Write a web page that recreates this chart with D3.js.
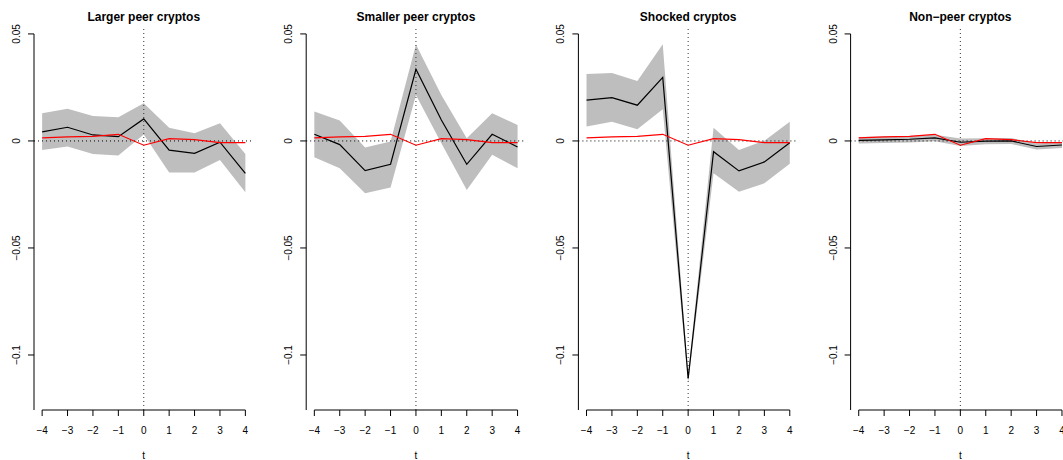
<!DOCTYPE html>
<html>
<head>
<meta charset="utf-8">
<script src="https://cdn.jsdelivr.net/npm/d3@7"></script>
<style>
body { margin: 0; background: #fff; }
text { font-family: "Liberation Sans", Arial, sans-serif; }
</style>
</head>
<body>
<script>
// event time
var t = [-4, -3, -2, -1, 0, 1, 2, 3, 4];

var titles = ["Larger peer cryptos", "Smaller peer cryptos", "Shocked cryptos", "Non\u2212peer cryptos"];

// estimates (black) and confidence band per panel
var est_larger  = [0.0042, 0.0064, 0.0028, 0.0020, 0.0103, -0.0043, -0.0058, -0.0006, -0.0151];
var up_larger   = [0.0129, 0.0151, 0.0117, 0.0111, 0.0176, 0.0062, 0.0036, 0.0083, -0.0061];
var lo_larger   = [-0.0042, -0.0026, -0.0061, -0.0068, 0.0030, -0.0148, -0.0148, -0.0089, -0.0240];

var est_smaller = [0.0031, -0.0017, -0.0139, -0.0109, 0.0335, 0.0098, -0.0109, 0.0031, -0.0028];
var up_smaller  = [0.0137, 0.0095, -0.0031, -0.0003, 0.0451, 0.0215, 0.0013, 0.0129, 0.0075];
var lo_smaller  = [-0.0076, -0.0128, -0.0244, -0.0218, 0.0215, -0.0011, -0.0229, -0.0065, -0.0128];

var est_shocked = [0.0191, 0.0202, 0.0167, 0.0297, -0.1110, -0.0050, -0.0140, -0.0098, -0.0008];
var up_shocked  = [0.0313, 0.0318, 0.0280, 0.0452, -0.1090, 0.0062, -0.0042, 0.0001, 0.0090];
var lo_shocked  = [0.0067, 0.0090, 0.0055, 0.0148, -0.1130, -0.0151, -0.0237, -0.0198, -0.0107];

var est_nonpeer = [0.0003, 0.0005, 0.0008, 0.0014, -0.0006, -0.0001, 0.0000, -0.0026, -0.0019];
var up_nonpeer  = [0.0018, 0.0021, 0.0023, 0.0029, 0.0012, 0.0013, 0.0014, -0.0012, -0.0005];
var lo_nonpeer  = [-0.0012, -0.0010, -0.0007, -0.0001, -0.0024, -0.0016, -0.0014, -0.0040, -0.0033];

// market benchmark (red), same in every panel
var market = [0.0014, 0.0019, 0.0021, 0.0031, -0.0020, 0.0011, 0.0006, -0.0008, -0.0008];

var y_ticks = [0.05, 0, -0.05, -0.1];
var y_labels = ["0.05", "0", "\u22120.05", "\u22120.1"];

var est = [est_larger, est_smaller, est_shocked, est_nonpeer];
var up = [up_larger, up_smaller, up_shocked, up_nonpeer];
var lo = [lo_larger, lo_smaller, lo_shocked, lo_nonpeer];

window.onload = function() {

var w = 1063;
var h = 460;

var svg = d3.select("body")
    .append("svg")
    .attr("width", w)
    .attr("height", h);

var step = 272.2;
var pw = 219.5;
var top = 29, bottom = 410;

var y = d3.scaleLinear().domain([-0.1257, 0.0523]).range([bottom, top]);

var draw_panel = function(i) {
    var left = 34 + i * step;
    var x = d3.scaleLinear().domain([-4.32, 4.32]).range([left, left + pw]);
    var g = svg.append("g");

    // band
    var area = d3.area()
        .x(function(d, k) { return x(t[k]); })
        .y0(function(d, k) { return y(lo[i][k]); })
        .y1(function(d) { return y(d); });
    g.append("path")
        .datum(up[i])
        .attr("d", area)
        .attr("fill", "#bebebe");

    // reference lines
    g.append("line")
        .attr("x1", left).attr("x2", left + pw)
        .attr("y1", y(0)).attr("y2", y(0))
        .attr("stroke", "#000").attr("stroke-dasharray", "1,3");
    g.append("line")
        .attr("x1", x(0)).attr("x2", x(0))
        .attr("y1", top).attr("y2", bottom)
        .attr("stroke", "#333").attr("stroke-dasharray", "1,3");

    var line = d3.line()
        .x(function(d, k) { return x(t[k]); })
        .y(function(d) { return y(d); });

    g.append("path")
        .datum(est[i])
        .attr("d", line)
        .attr("fill", "none")
        .attr("stroke", "#000")
        .attr("stroke-width", 1.2);

    g.append("path")
        .datum(market)
        .attr("d", line)
        .attr("fill", "none")
        .attr("stroke", "#ff0000")
        .attr("stroke-width", 1.2);

    // x axis
    g.append("line")
        .attr("x1", x(-4)).attr("x2", x(4))
        .attr("y1", bottom).attr("y2", bottom)
        .attr("stroke", "#000");
    t.forEach(function(v) {
        g.append("line")
            .attr("x1", x(v)).attr("x2", x(v))
            .attr("y1", bottom).attr("y2", bottom + 6)
            .attr("stroke", "#000");
        g.append("text")
            .attr("x", x(v)).attr("y", 434)
            .attr("text-anchor", "middle")
            .attr("font-size", 10)
            .text(v < 0 ? "\u2212" + (-v) : String(v));
    });
    g.append("text")
        .attr("x", left + pw / 2).attr("y", 459)
        .attr("text-anchor", "middle")
        .attr("font-size", 10)
        .text("t");

    // y axis
    g.append("line")
        .attr("x1", left).attr("x2", left)
        .attr("y1", y(0.05)).attr("y2", bottom)
        .attr("stroke", "#000");
    y_ticks.forEach(function(v, k) {
        g.append("line")
            .attr("x1", left - 6).attr("x2", left)
            .attr("y1", y(v)).attr("y2", y(v))
            .attr("stroke", "#000");
        g.append("text")
            .attr("transform", "translate(" + (left - 14) + "," + y(v) + ") rotate(-90)")
            .attr("text-anchor", "middle")
            .attr("font-size", 10)
            .text(y_labels[k]);
    });

    // title
    g.append("text")
        .attr("x", left + pw / 2).attr("y", 21)
        .attr("text-anchor", "middle")
        .attr("font-size", 12)
        .attr("font-weight", "bold")
        .text(titles[i]);
}

for (var i = 0; i < 4; i++) {
    draw_panel(i);
}

}
</script>
</body>
</html>
